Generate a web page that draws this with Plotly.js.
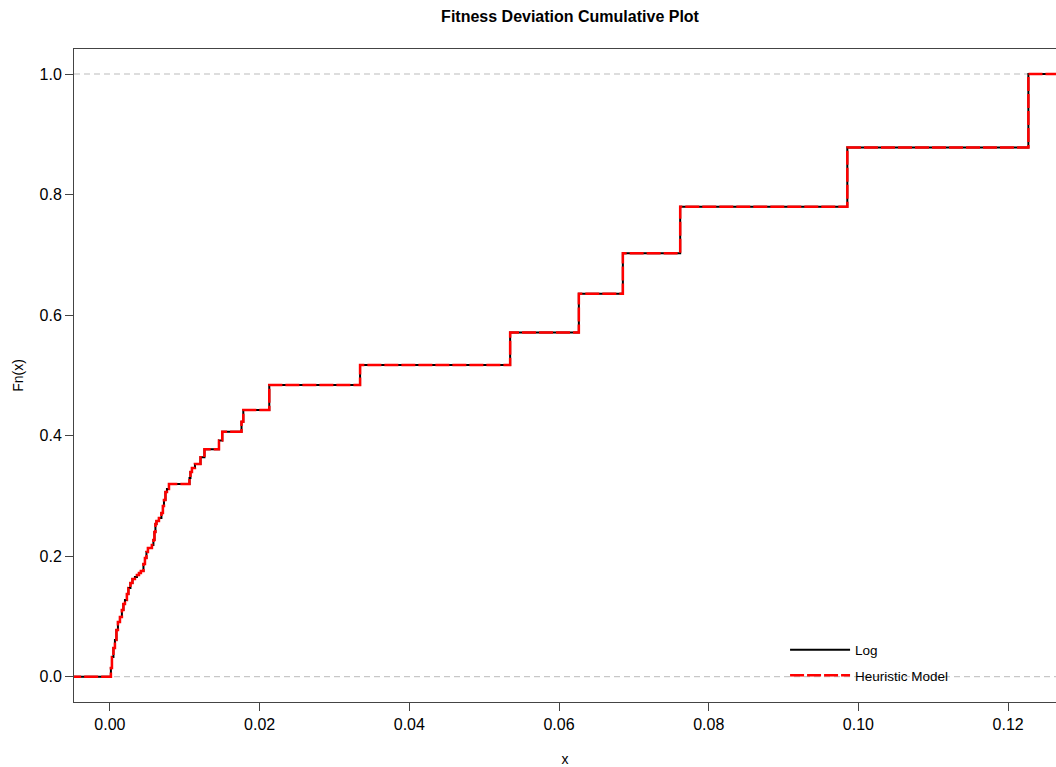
<!DOCTYPE html>
<html>
<head>
<meta charset="utf-8">
<script src="https://cdn.plot.ly/plotly-3.0.1.min.js"></script>
<style>html,body{margin:0;padding:0;background:#fff;}#chart{width:1056px;height:767px;}</style>
</head>
<body>
<div id="chart"></div>
<script>
// Jump locations (x) of the empirical CDF and level Fn(x) right after each jump
var logX = [0.00013, 0.00027, 0.00047, 0.00067, 0.00087, 0.00107, 0.00134, 0.00160, 0.00180, 0.00201,
            0.00227, 0.00247, 0.00274, 0.00301, 0.00334, 0.00361, 0.00388, 0.00414, 0.00448, 0.00468,
            0.00488, 0.00508, 0.00561, 0.00581, 0.00595, 0.00608, 0.00622, 0.00655, 0.00688, 0.00708,
            0.00722, 0.00742, 0.00762, 0.00789, 0.01063, 0.01076, 0.01096, 0.01136, 0.01210, 0.01263,
            0.01457, 0.01501, 0.01758, 0.01782, 0.02129, 0.03342, 0.05347, 0.06265, 0.06853, 0.07619,
            0.09852, 0.12271];
var logF = [0.0144, 0.0327, 0.0476, 0.0609, 0.0775, 0.0908, 0.0991, 0.1107, 0.1207, 0.1273,
            0.1373, 0.1472, 0.1555, 0.1622, 0.1655, 0.1688, 0.1721, 0.1754, 0.1870, 0.1970,
            0.2070, 0.2136, 0.2186, 0.2269, 0.2402, 0.2534, 0.2584, 0.2634, 0.2717, 0.2833,
            0.2933, 0.3066, 0.3116, 0.3199, 0.3298, 0.3398, 0.3464, 0.3531, 0.3641, 0.3774,
            0.3917, 0.4066, 0.4232, 0.4427, 0.4841, 0.5173, 0.5710, 0.6352, 0.7027, 0.7796,
            0.8780, 1.0000];
// Heuristic model: coincides with the log curve
var heurX = logX.slice();
var heurF = logF.slice();

var xTicks = [0.00, 0.02, 0.04, 0.06, 0.08, 0.10, 0.12];
var xTickLabels = ["0.00", "0.02", "0.04", "0.06", "0.08", "0.10", "0.12"];
var yTicks = [0.0, 0.2, 0.4, 0.6, 0.8, 1.0];
var yTickLabels = ["0.0", "0.2", "0.4", "0.6", "0.8", "1.0"];
var seriesNames = ["Log", "Heuristic Model"];

var xRange = [-0.0048, 0.1264];

function stepSeries(xs, fs) {
  // extend the step function over the whole axis range (as plot.ecdf does)
  var x = [xRange[0] - 0.01].concat(xs, [xRange[1] + 0.01]);
  var y = [0].concat(fs, [fs[fs.length - 1]]);
  return {x: x, y: y};
}

var s1 = stepSeries(logX, logF);
var s2 = stepSeries(heurX, heurF);

var traces = [
  {x: s1.x, y: s1.y, type: 'scatter', mode: 'lines', name: seriesNames[0], legendgroup: 'a',
   line: {shape: 'hv', color: '#000000', width: 2}},
  {x: s2.x, y: s2.y, type: 'scatter', mode: 'lines', name: seriesNames[1], legendgroup: 'b',
   line: {shape: 'hv', color: '#FF0000', width: 2.5, dash: '14px,3px'}}
];

var axisFont = {family: 'Liberation Sans, Arial, sans-serif', size: 16, color: '#000'};

var layout = {
  width: 1056, height: 767,
  paper_bgcolor: '#ffffff', plot_bgcolor: '#ffffff',
  margin: {l: 74, r: 0, t: 49, b: 65},
  showlegend: true,
  title: {text: 'Fitness Deviation Cumulative Plot',
          font: {family: 'Liberation Sans, Arial, sans-serif', size: 16, color: '#000', weight: 'bold'},
          xref: 'container', x: 0.5398, xanchor: 'center', yref: 'container', y: 0.978, yanchor: 'middle'},
  xaxis: {range: xRange, tickvals: xTicks, ticktext: xTickLabels, showgrid: false, zeroline: false,
          showline: true, mirror: true, linecolor: '#444', linewidth: 1,
          ticks: 'outside', ticklen: 8, tickcolor: '#444', tickfont: axisFont,
          title: {text: 'x', font: {family: 'Liberation Sans, Arial, sans-serif', size: 14, color: '#000'}, standoff: 22}},
  yaxis: {range: [-0.042, 1.0415], tickvals: yTicks, ticktext: yTickLabels, showgrid: false, zeroline: false,
          showline: true, mirror: false, linecolor: '#444', linewidth: 1,
          ticks: 'outside', ticklen: 8, tickcolor: '#444', tickfont: axisFont,
          title: {text: 'Fn(x)', font: {family: 'Liberation Sans, Arial, sans-serif', size: 14, color: '#000'}, standoff: 12}},
  legend: {x: 0.7241, y: 0.1034, xanchor: 'left', yanchor: 'top', bgcolor: 'rgba(0,0,0,0)',
           font: {family: 'Liberation Sans, Arial, sans-serif', size: 13.5, color: '#000'},
           traceorder: 'grouped', tracegroupgap: 5, itemwidth: 60},
  shapes: [
    {type: 'line', xref: 'paper', x0: 0, x1: 1, yref: 'y', y0: 0, y1: 0,
     line: {color: '#bbbbbb', width: 1, dash: '6px,4px'}, layer: 'below'},
    {type: 'line', xref: 'paper', x0: 0, x1: 1, yref: 'y', y0: 1, y1: 1,
     line: {color: '#bbbbbb', width: 1, dash: '6px,4px'}, layer: 'below'}
  ]
};

Plotly.newPlot('chart', traces, layout, {displayModeBar: false, staticPlot: true});
</script>
</body>
</html>
